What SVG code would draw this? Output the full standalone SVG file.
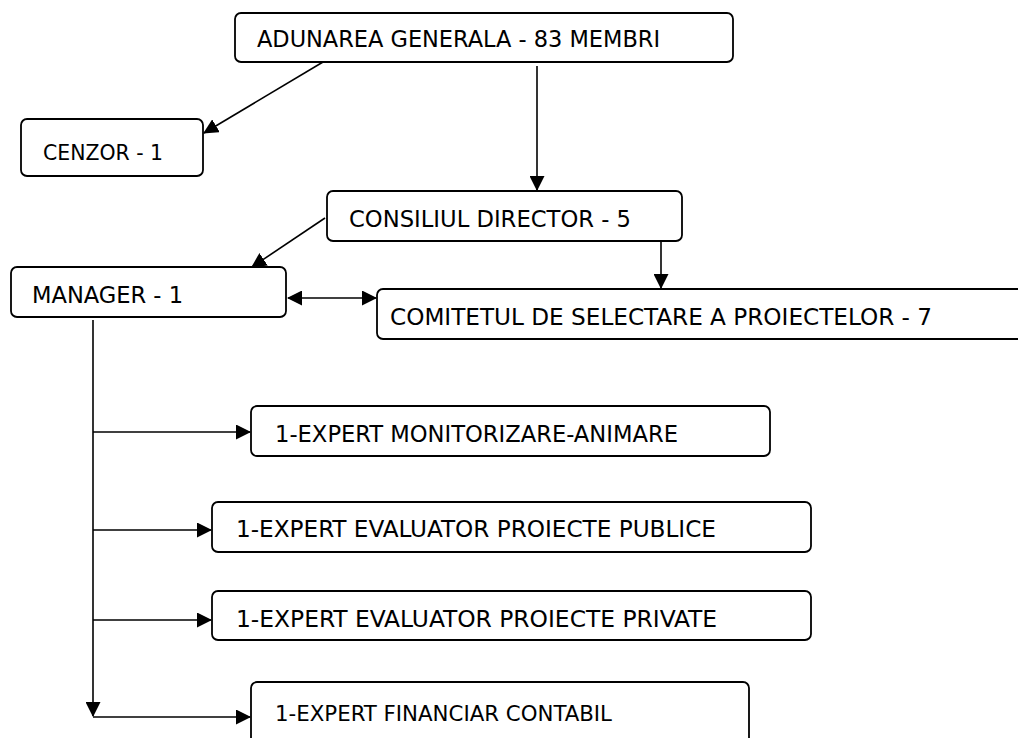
<svg xmlns="http://www.w3.org/2000/svg" width="1018" height="738" viewBox="0 0 1018 738">
<style>
.box{fill:#fff;stroke:#000;stroke-width:1.8}
.t{font-family:"DejaVu Sans Condensed","DejaVu Sans","Liberation Sans",sans-serif;font-size:23px;fill:#000}
.s{font-size:21px}
.c{fill:none;stroke:#000;stroke-width:1.6}
</style>
<defs>
<marker id="ah" markerUnits="userSpaceOnUse" markerWidth="15" markerHeight="15" refX="14" refY="7.5" orient="auto-start-reverse" viewBox="0 0 15 15">
<path d="M0,0 L15,7.5 L0,15 z" fill="#000"/>
</marker>
</defs>
<rect width="1018" height="738" fill="#fff"/>
<g id="connectors">
<line class="c" x1="323" y1="62" x2="204" y2="133" marker-end="url(#ah)"/>
<line class="c" x1="537" y1="66" x2="537" y2="190" marker-end="url(#ah)"/>
<line class="c" x1="325" y1="218" x2="252" y2="267" marker-end="url(#ah)"/>
<line class="c" x1="661" y1="241" x2="661" y2="288" marker-end="url(#ah)"/>
<line class="c" x1="288" y1="298" x2="376" y2="298" marker-start="url(#ah)" marker-end="url(#ah)"/>
<line class="c" x1="93" y1="320" x2="93" y2="716" marker-end="url(#ah)"/>
<line class="c" x1="93" y1="432" x2="250" y2="432" marker-end="url(#ah)"/>
<line class="c" x1="93" y1="530" x2="211" y2="530" marker-end="url(#ah)"/>
<line class="c" x1="93" y1="620" x2="211" y2="620" marker-end="url(#ah)"/>
<line class="c" x1="93" y1="717" x2="250" y2="717" marker-end="url(#ah)"/>
</g>
<g id="adunarea">
<rect class="box" x="235" y="13" width="498" height="49" rx="6"/>
<text class="t" x="257" y="47" textLength="403" lengthAdjust="spacingAndGlyphs">ADUNAREA GENERALA - 83 MEMBRI</text>
</g>
<g id="cenzor">
<rect class="box" x="21" y="119" width="182" height="57" rx="6"/>
<text class="t s" x="43" y="160" textLength="120" lengthAdjust="spacingAndGlyphs">CENZOR - 1</text>
</g>
<g id="consiliul">
<rect class="box" x="327" y="191" width="355" height="50" rx="6"/>
<text class="t" x="349" y="227" textLength="282" lengthAdjust="spacingAndGlyphs">CONSILIUL DIRECTOR - 5</text>
</g>
<g id="manager">
<rect class="box" x="11" y="267" width="275" height="50" rx="6"/>
<text class="t" x="32" y="303" textLength="151" lengthAdjust="spacingAndGlyphs">MANAGER - 1</text>
</g>
<g id="comitetul">
<rect class="box" x="377" y="289" width="660" height="50" rx="6"/>
<text class="t" x="390" y="325" textLength="542" lengthAdjust="spacingAndGlyphs">COMITETUL DE SELECTARE A PROIECTELOR - 7</text>
</g>
<g id="monitorizare">
<rect class="box" x="251" y="406" width="519" height="50" rx="6"/>
<text class="t" x="275" y="442" textLength="403" lengthAdjust="spacingAndGlyphs">1-EXPERT MONITORIZARE-ANIMARE</text>
</g>
<g id="publice">
<rect class="box" x="212" y="502" width="599" height="50" rx="6"/>
<text class="t" x="236" y="537" textLength="480" lengthAdjust="spacingAndGlyphs">1-EXPERT EVALUATOR PROIECTE PUBLICE</text>
</g>
<g id="private">
<rect class="box" x="212" y="591" width="599" height="49" rx="6"/>
<text class="t" x="236" y="627" textLength="481" lengthAdjust="spacingAndGlyphs">1-EXPERT EVALUATOR PROIECTE PRIVATE</text>
</g>
<g id="financiar">
<rect class="box" x="251" y="682" width="498" height="70" rx="6"/>
<text class="t s" x="275" y="721" textLength="337" lengthAdjust="spacingAndGlyphs">1-EXPERT FINANCIAR CONTABIL</text>
</g>
</svg>
